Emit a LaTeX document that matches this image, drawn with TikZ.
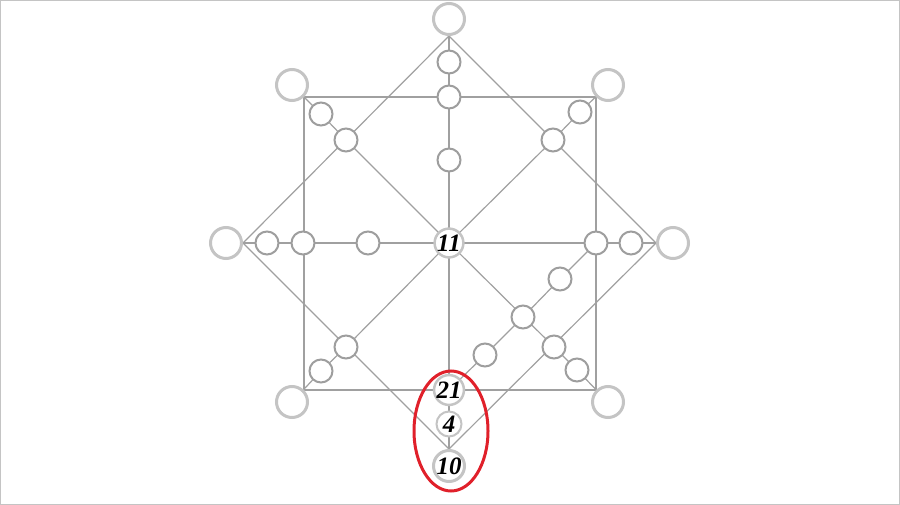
\documentclass[tikz,border=0pt]{standalone}
\usepackage{fontspec}
\setmainfont{Liberation Serif}
\usetikzlibrary{backgrounds}
\definecolor{lnc}{HTML}{A0A0A0}
\definecolor{smc}{HTML}{9E9E9E}
\definecolor{bgc}{HTML}{C4C4C4}
\definecolor{redc}{HTML}{E0202A}
\tikzset{
  big/.style={circle,draw=bgc,line width=3pt,fill=white,minimum size=31pt,inner sep=0pt},
  small/.style={circle,draw=smc,line width=2pt,fill=white,minimum size=23pt,inner sep=0pt},
  mid/.style={circle,draw=bgc,line width=2.5pt,fill=white,minimum size=28pt,inner sep=0pt},
  numtxt/.style={font=\fontsize{25}{25}\selectfont\bfseries\itshape},
  ln/.style={draw=lnc,line width=1.2pt},
}
\begin{document}
\begin{tikzpicture}[x=1pt,y=-1pt]
\useasboundingbox (0,0) rectangle (900,505);
\draw[draw=bgc,line width=1pt] (0.5,0.5) rectangle (899.5,504.5);
% big outer circles
\node[big] (T) at (449,19) {};
\node[big] (L) at (226,243) {};
\node[big] (R) at (673,243) {};
\node[big,numtxt] (B) at (449,466) {10};
\node[big] (TL) at (292,85) {};
\node[big] (TR) at (608,85) {};
\node[big] (BL) at (292,402) {};
\node[big] (BR) at (608,402) {};
% centre
\node[mid,numtxt] (C) at (449,243) {11};
% vertical column
\node[small] (v1) at (449,62) {};
\node[small] (v2) at (449,97) {};
\node[small] (v3) at (449,160) {};
\node[mid,minimum size=26pt,numtxt] (n21) at (449,390) {21};
\node[small,draw=bgc,minimum size=25pt,numtxt] (n4) at (449,424) {4};
% horizontal row
\node[small] (h1) at (267,243) {};
\node[small] (h2) at (303,243) {};
\node[small] (h3) at (368,243) {};
\node[small] (h4) at (596,243) {};
\node[small] (h5) at (631,243) {};
% diagonals
\node[small] (d1) at (321,114) {};
\node[small] (d2) at (346,140) {};
\node[small] (d3) at (580,112) {};
\node[small] (d4) at (553,140) {};
\node[small] (d5) at (346,347) {};
\node[small] (d6) at (321,371) {};
\node[small] (d7) at (554,347) {};
\node[small] (d8) at (577,370) {};
% extra line
\node[small] (e1) at (560,279) {};
\node[small] (e2) at (523,317) {};
\node[small] (e3) at (485,355) {};
% red ellipse
\draw[draw=redc,line width=3pt] (451,431) ellipse [x radius=37, y radius=60];
\begin{scope}[on background layer]
  % diamond
  \draw[ln] (T.south) -- (L.east) -- (B.north) -- (R.west) -- cycle;
  % square
  \draw[ln] (TL.south east) -- (TR.south west) -- (BR.north west) -- (BL.north east) -- cycle;
  % square diagonals
  \draw[ln] (TL.center) -- (d1.center) -- (d2.center) -- (C.center) -- (d7.center) -- (d8.center) -- (BR.center);
  \draw[ln] (TR.center) -- (d3.center) -- (d4.center) -- (C.center) -- (d5.center) -- (d6.center) -- (BL.center);
  % axes
  \draw[ln] (T.center) -- (v1.center) -- (v2.center) -- (v3.center) -- (C.center) -- (n21.center) -- (n4.center) -- (B.center);
  \draw[ln] (L.center) -- (h1.center) -- (h2.center) -- (h3.center) -- (C.center) -- (h4.center) -- (h5.center) -- (R.center);
  % extra
  \draw[ln] (h4.center) -- (e1.center) -- (e2.center) -- (e3.center) -- (n21.center);
\end{scope}
\end{tikzpicture}
\end{document}
